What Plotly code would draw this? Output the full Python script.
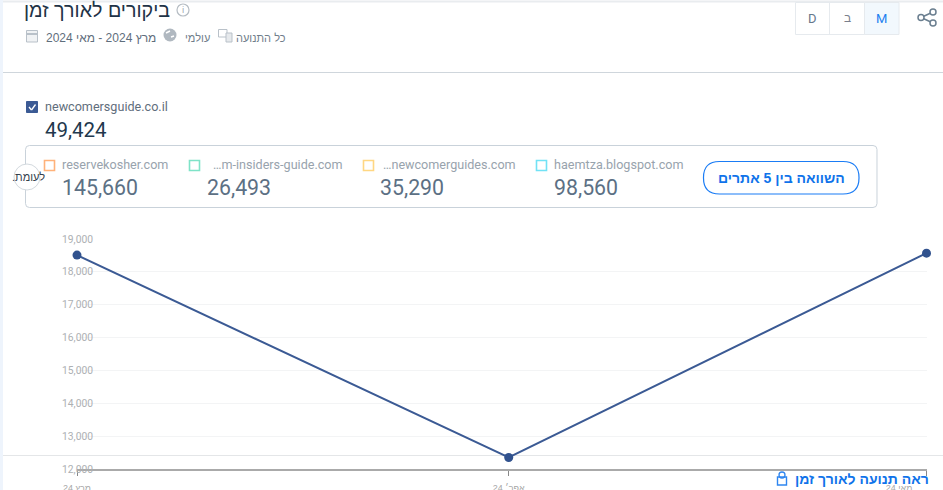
import plotly.graph_objects as go

W, H = 943, 490
RLM = "\u200f"

# ---- data ----
dates = ["2024-03-01", "2024-04-01", "2024-05-01"]
visits = [18510, 12350, 18570]
tick_labels = [RLM + "מרץ 24" + RLM, RLM + "אפר׳ 24" + RLM, RLM + "\u00a0" * 22 + "מאי 24" + RLM]
y_ticks = [12000, 13000, 14000, 15000, 16000, 17000, 18000, 19000]

main_site = "newcomersguide.co.il"
main_value = "49,424"
competitors = ["reservekosher.com", "…m-insiders-guide.com", "…newcomerguides.com", "haemtza.blogspot.com"]
competitor_values = ["145,660", "26,493", "35,290", "98,560"]
competitor_colors = ["#ffb27a", "#7fe3c8", "#ffd783", "#72e2f5"]
competitor_swatch_x = [44, 189, 363, 536]
competitor_name_x = [62, 213, 383, 554]
competitor_value_x = [62, 207, 380, 554]

FONT = "Roboto, 'Liberation Sans', sans-serif"
HEB = "'Liberation Sans', Roboto, sans-serif"
LINE = "#3b5a94"


def px(x):
    return x / W


def py(y):
    return 1 - y / H


shapes = []
annotations = []


def text(x, y, s, size, color, anchor="left", family=FONT, bold=False):
    annotations.append(dict(
        x=px(x), y=py(y), xref="paper", yref="paper", text=f"<b>{s}</b>" if bold else s,
        showarrow=False, xanchor=anchor, yanchor="middle",
        font=dict(size=size, color=color, family=family), borderpad=0, borderwidth=0,
    ))


def rect(x0, y0, x1, y1, line=None, fill=None, width=1, layer="above"):
    shapes.append(dict(
        type="rect", xref="paper", yref="paper", x0=px(x0), x1=px(x1), y0=py(y0), y1=py(y1),
        line=dict(color=line, width=width if line else 0), fillcolor=fill, layer=layer,
    ))


def circle(cx, cy, r, line=None, fill=None, width=1, layer="above"):
    shapes.append(dict(
        type="circle", xref="paper", yref="paper", x0=px(cx - r), x1=px(cx + r), y0=py(cy - r), y1=py(cy + r),
        line=dict(color=line, width=width if line else 0), fillcolor=fill, layer=layer,
    ))


def seg(x0, y0, x1, y1, color, width=1, layer="above"):
    shapes.append(dict(
        type="line", xref="paper", yref="paper", x0=px(x0), x1=px(x1), y0=py(y0), y1=py(y1),
        line=dict(color=color, width=width), layer=layer,
    ))


def rounded(x0, y0, x1, y1, r, line, fill=None, width=1):
    X = lambda v: round(px(v), 5)
    Y = lambda v: round(py(v), 5)
    path = (
        f"M {X(x0 + r)} {Y(y0)} L {X(x1 - r)} {Y(y0)} Q {X(x1)} {Y(y0)} {X(x1)} {Y(y0 + r)} "
        f"L {X(x1)} {Y(y1 - r)} Q {X(x1)} {Y(y1)} {X(x1 - r)} {Y(y1)} "
        f"L {X(x0 + r)} {Y(y1)} Q {X(x0)} {Y(y1)} {X(x0)} {Y(y1 - r)} "
        f"L {X(x0)} {Y(y0 + r)} Q {X(x0)} {Y(y0)} {X(x0 + r)} {Y(y0)} Z"
    )
    shapes.append(dict(type="path", xref="paper", yref="paper", path=path,
                       line=dict(color=line, width=width), fillcolor=fill, layer="above"))


# page chrome
rect(0, 0, 3, H, fill="#eef4fc", layer="below")
seg(3, 1.5, W, 1.5, "#e9ecef", 2, "below")
seg(3, 72.5, W, 72.5, "#cfd6dc", 1, "below")
seg(3, 455.5, W, 455.5, "#e4e6e8", 1, "below")

# header
text(170, 10, "ביקורים לאורך זמן", 19.7, "#1f3347", "right", HEB)
circle(183, 10, 6, line="#b5bcc3", width=1.2)
text(183, 10, "i", 9, "#a0a8b0", "center")
GREY = "#6f7d8a"
text(286, 38, "כל התנועה", 11, GREY, "right", HEB)
rect(218.5, 29.5, 227, 37, line="#b9c1c9")
rect(226, 33, 232, 42, line="#b9c1c9", fill="#e6e9ec")
text(210, 38, "עולמי", 11, GREY, "right", HEB)
circle(170, 35, 6.5, fill="#b0b8c0")
seg(166, 33, 170, 31, "#ffffff", 1.4)
seg(171, 37, 174, 36, "#ffffff", 1.4)
text(156, 38, RLM + "מרץ 2024 - מאי 2024" + RLM, 12, "#5f6e7c", "right", HEB)
rect(26.5, 30.5, 37.5, 42, line="#b9c1c9", fill="#f0f2f4")
seg(26.5, 34, 37.5, 34, "#b9c1c9", 2)

# granularity switch
rect(864.5, 2.5, 899, 34.5, fill="#f2f8fd", line="#e6eaee")
rect(795.5, 2.5, 864.5, 34.5, line="#e6eaee")
seg(829.5, 2.5, 829.5, 34.5, "#e6eaee")
text(812, 18, "D", 13, "#66788c", "center")
text(847, 18, "ב", 12, "#7a7f8c", "center", HEB)
text(881.5, 18, "M", 13, "#1f80f0", "center")

# share icon
seg(933, 12, 921, 17.5, "#6b7f90", 1.5)
seg(933, 23, 921, 17.5, "#6b7f90", 1.5)
for cx, cy in [(933, 12), (921, 17.5), (933, 23)]:
    circle(cx, cy, 3, line="#6b7f90", fill="#ffffff", width=1.5)

# main site
rect(26.5, 101.5, 37.5, 112.5, fill="#3b5a94", line="#3b5a94")
seg(29, 107, 31.5, 110, "#ffffff", 1.3)
seg(31.5, 110, 35.5, 104.5, "#ffffff", 1.3)
text(44.5, 106.5, main_site, 12.6, "#5f6e7c")
text(44.5, 130, main_value, 20.5, "#22384d")

# competitor box
rounded(25.5, 145.5, 877, 207.5, 4, "#c9d2da")
for name, value, color, sx, nx, vx in zip(competitors, competitor_values, competitor_colors,
                                          competitor_swatch_x, competitor_name_x, competitor_value_x):
    rect(sx + 0.5, 160.5, sx + 10.5, 170.5, line=color, width=1.6)
    text(nx, 164.5, name, 12.6, "#98a3ad")
    text(vx, 188, value, 21.3, "#5c7084")
circle(27, 177, 13, line="#d3d9de", fill="#ffffff")
text(28, 177, "לעומת." + RLM, 11, "#33404c", "center", HEB)
rounded(703.5, 161.5, 859, 194, 16, "#1a7cf5", "#ffffff", 1.2)
text(781, 177.5, "השוואה בין 5 אתרים", 14, "#0f73ea", "center", HEB, True)

# footer link
text(929, 479, "ראה תנועה לאורך זמן", 14, "#0f73ea", "right", HEB, True)
rect(777.5, 477, 786.5, 485, line="#2f86f0", width=1.4)
circle(782, 475, 3, line="#2f86f0", width=1.3)

fig = go.Figure(go.Scatter(
    x=dates, y=visits, mode="lines+markers", cliponaxis=False, hoverinfo="skip",
    line=dict(color=LINE, width=2), marker=dict(color="#31528e", size=9),
))
fig.update_layout(
    width=W, height=H, margin=dict(l=0, r=0, t=0, b=0, autoexpand=False),
    paper_bgcolor="#ffffff", plot_bgcolor="#ffffff",
    showlegend=False, shapes=shapes, annotations=annotations,
    xaxis=dict(
        domain=[px(77), px(926.5)], type="date", range=[dates[0], dates[-1]],
        tickmode="array", tickvals=dates, ticktext=tick_labels, showgrid=False,
        ticks="outside", ticklen=5, tickcolor="#888888", tickwidth=1,
        showline=True, linecolor="#aaaaaa", linewidth=2, ticklabelstandoff=4,
        ticklabeloverflow="allow",
        tickfont=dict(size=9, color="#a7a7a7", family=HEB), zeroline=False, tickangle=0,
        automargin=False,
    ),
    yaxis=dict(
        domain=[py(469), py(239)], range=[12000, 19000], anchor="free", position=px(93),
        tickmode="array", tickvals=y_ticks, ticktext=[f"{v:,}" for v in y_ticks],
        showline=False, zeroline=False, ticks="", showgrid=True, gridcolor="#f3f4f5", gridwidth=1,
        tickfont=dict(size=10.3, color="#adb0b3", family=FONT), automargin=False,
    ),
)
fig.write_html("out.html", post_script="document.body.style.margin='0';", config={"displayModeBar": False})
